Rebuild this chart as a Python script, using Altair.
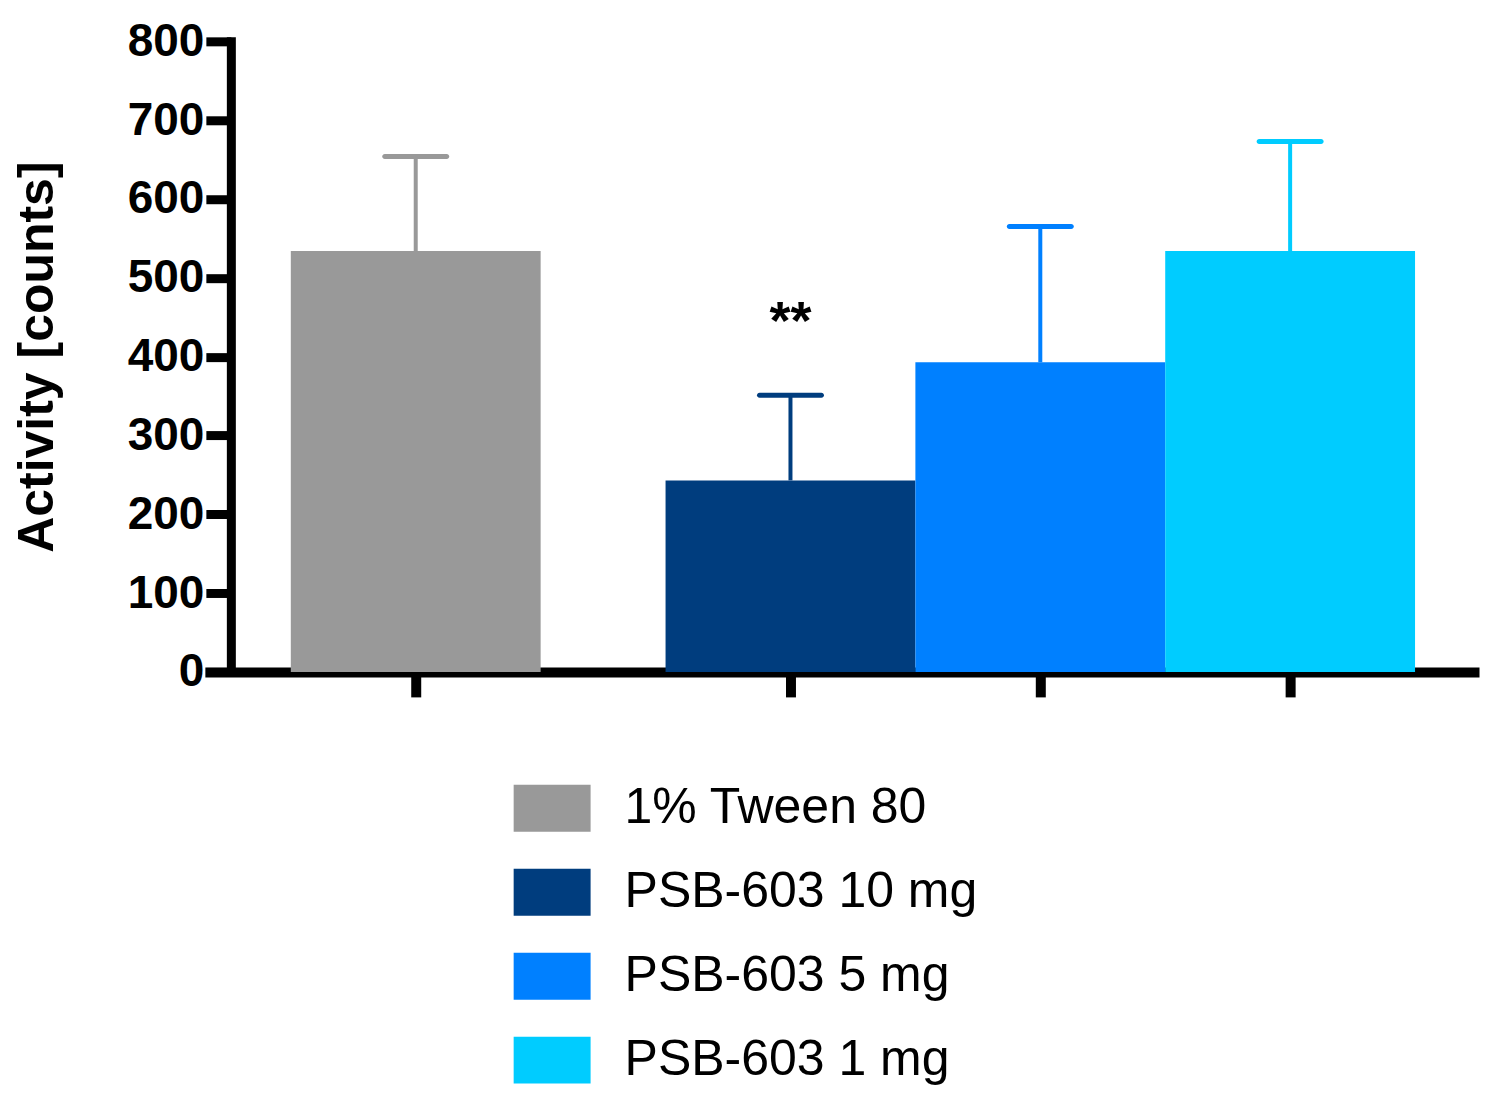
import altair as alt
import pandas as pd

# group order, bar positions on the x scale (gap after the vehicle bar)
groups = ["1% Tween 80", "PSB-603 10 mg", "PSB-603 5 mg", "PSB-603 1 mg"]
positions = [0.0, 1.5, 2.5, 3.5]
means = [534, 243, 393, 534]
sems = [120, 108, 172, 139]
stars = ["", "**", "", ""]
colors = ["#999999", "#003D7E", "#0080FF", "#00CCFF"]
y_ticks = [0, 100, 200, 300, 400, 500, 600, 700, 800]

FONT = "Liberation Sans"

df = pd.DataFrame({
    "group": groups,
    "pos": positions,
    "mean": means,
    "sem": sems,
    "star": stars,
})

x_scale = alt.Scale(domain=[-0.844, 4.256], nice=False, zero=False)
y_scale = alt.Scale(domain=[0, 800], nice=False)

x_axis = alt.Axis(
    values=positions, labels=False, title=None, grid=False,
    tickSize=25, tickWidth=10, tickColor="black",
    domainWidth=10, domainColor="black",
)
y_axis = alt.Axis(
    values=y_ticks, grid=False, offset=-26,
    tickSize=25, tickWidth=9, tickColor="black",
    domainWidth=9, domainColor="black", domainCap="square",
    labelFont=FONT, labelFontSize=46, labelFontWeight="bold",
    labelColor="black", labelPadding=2,
    title="Activity [counts]", titleFont=FONT, titleFontSize=50,
    titleFontWeight="bold", titleColor="black", titlePadding=65,
)
legend = alt.Legend(
    orient="none", legendX=309, legendY=729, title=None, padding=0,
    symbolType="M-1,-0.61H1V0.61H-1Z", symbolSize=5929,
    symbolStrokeWidth=0, symbolOpacity=1,
    labelFont=FONT, labelFontSize=50, labelColor="black",
    labelOffset=34, rowPadding=20, labelLimit=600,
)
color = alt.Color("group:N", scale=alt.Scale(domain=groups, range=colors),
                  legend=legend)

base = alt.Chart(df).transform_calculate(
    left="datum.pos - 0.5",
    right="datum.pos + 0.5",
    upper="datum.mean + datum.sem",
)

bars = base.mark_bar(opacity=1).encode(
    x=alt.X("left:Q", scale=x_scale, axis=x_axis),
    x2="right:Q",
    y=alt.Y("mean:Q", scale=y_scale, axis=y_axis),
    y2=alt.datum(0),
    color=color,
)

err = base.mark_rule(strokeWidth=4, opacity=1).encode(
    x=alt.X("pos:Q", scale=x_scale, axis=x_axis),
    y=alt.Y("mean:Q", scale=y_scale, axis=y_axis),
    y2="upper:Q",
    color=color,
)

caps = base.mark_tick(orient="horizontal", size=67, thickness=5,
                      cornerRadius=2.5, opacity=1).encode(
    x=alt.X("pos:Q", scale=x_scale, axis=x_axis),
    y=alt.Y("upper:Q", scale=y_scale, axis=y_axis),
    color=color,
)

sig = base.mark_text(font=FONT, fontSize=54, fontWeight="bold",
                     baseline="alphabetic", dy=-56).encode(
    x=alt.X("pos:Q", scale=x_scale, axis=x_axis),
    y=alt.Y("upper:Q", scale=y_scale, axis=y_axis),
    text="star:N",
    color=alt.value("black"),
)

chart = (bars + err + caps + sig).properties(
    width=1275, height=631,
    padding={"left": 4, "top": 10, "right": 5, "bottom": 5},
).configure_view(stroke=None)

chart.save("out.html", embed_options={"renderer": "svg", "actions": False})
